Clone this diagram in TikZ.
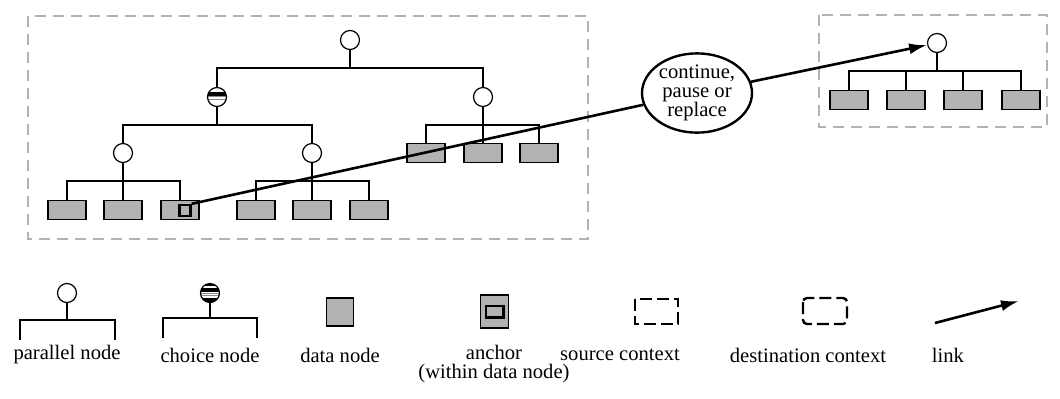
\documentclass[tikz,border=0pt]{standalone}
\usepackage{fontspec}
\setmainfont{Liberation Serif}
\usetikzlibrary{shapes.geometric,arrows.meta}
\begin{document}
\begin{tikzpicture}[x=0.5pt,y=-0.5pt,semithick,
  font=\fontsize{10.3pt}{9.5pt}\selectfont,
  par/.style={circle,draw,fill=white,minimum size=9.5pt,inner sep=0pt},
  choice/.style={circle,draw,fill=white,minimum size=9.5pt,inner sep=0pt,
    path picture={
      \fill[black] ([yshift=0.6pt]path picture bounding box.west) rectangle ([yshift=2.3pt]path picture bounding box.east);
      \fill[black!45] ([yshift=-0.2pt]path picture bounding box.west) rectangle ([yshift=0.3pt]path picture bounding box.east);
      \fill[black!45] ([yshift=-1.3pt]path picture bounding box.west) rectangle ([yshift=-0.9pt]path picture bounding box.east);}},
  choicekey/.style={circle,draw,fill=white,minimum size=9.5pt,inner sep=0pt,
    path picture={
      \fill[black] ([yshift=3.3pt]path picture bounding box.west) rectangle (path picture bounding box.north east);
      \fill[black] ([yshift=0.6pt]path picture bounding box.west) rectangle ([yshift=2.5pt]path picture bounding box.east);
      \fill[black!45] ([yshift=-0.3pt]path picture bounding box.west) rectangle ([yshift=0.2pt]path picture bounding box.east);
      \fill[black!45] ([yshift=-1.5pt]path picture bounding box.west) rectangle ([yshift=-1.0pt]path picture bounding box.east);
      \fill[black] (path picture bounding box.south west) rectangle ([yshift=-2.6pt]path picture bounding box.east);}},
  leaf/.style={draw,fill=black!30,minimum width=19pt,minimum height=9.3pt,inner sep=0pt,line width=0.7pt},
  anc/.style={draw,fill=black!30,minimum width=5.5pt,minimum height=5.5pt,inner sep=0pt,line width=1.2pt},
  ctx/.style={draw=black!30,line width=1.2pt,dash pattern=on 5.5pt off 3.5pt},
  ctxkey/.style={line width=1.2pt,dash pattern=on 6pt off 2.5pt},
  lnk/.style={line width=1.3pt},
  tip/.style={-{Latex[length=9pt,width=5.5pt]}},
  lbl/.style={align=center,inner sep=0pt}]
  \useasboundingbox (0,0) rectangle (1060,398);
  \draw[ctx] (28,16) rectangle (588,239);
  \draw[ctx] (819,15) rectangle (1047,127);
  \node[par] (root) at (350,40){};
  \node[choice] (ch) at (217,97){};
  \node[par] (pr) at (483,97){};
  \node[par] (p1) at (123,153){};
  \node[par] (p2) at (312,153){};
  \node[par] (droot) at (937,43){};
  \coordinate (j1) at (350,68);
  \coordinate (j2) at (217,125);
  \coordinate (j3) at (483,125);
  \coordinate (j4) at (123,181);
  \coordinate (j5) at (312,181);
  \coordinate (j6) at (937,71);
  \foreach \n/\x/\y in {d1/67/210,d2/123/210,d3/180/210,d4/256/210,d5/312/210,d6/369/210,
                        d7/426/153,d8/483/153,d9/539/153,e1/849/100,e2/906/100,e3/963/100,e4/1021/100}
    \node[leaf] (\n) at (\x,\y){};
  \node[anc] (anc) at (185,210.5){};
  \draw (root) -- (j1);
  \draw (ch) |- (j1) -| (pr);
  \draw (ch) -- (j2);
  \draw (p1) |- (j2) -| (p2);
  \draw (pr) -- (d8);
  \draw (d7) |- (j3) -| (d9);
  \draw (p1) -- (d2);
  \draw (d1) |- (j4) -| (d3);
  \draw (p2) -- (d5);
  \draw (d4) |- (j5) -| (d6);
  \draw (droot) -- (j6);
  \draw (e1) |- (j6) -| (e4);
  \draw (e2) -- (e2 |- j6);
  \draw (e3) -- (e3 |- j6);
  \node[ellipse,draw,line width=1.2pt,fill=white,minimum width=55pt,minimum height=37.5pt,inner sep=0pt,align=center] (cpr) at (697,93){continue,\\pause or\\replace};
  \draw[lnk] (anc.north east) -- (cpr);
  \draw[lnk,tip] (cpr) -- (droot);
  \node[par] (kp) at (67,293){};
  \coordinate (kpj) at (67,320);
  \coordinate (kpl) at (20,340);
  \coordinate (kpr) at (115,340);
  \draw (kp) -- (kpj);
  \draw (kpl) |- (kpj) -| (kpr);
  \node[choicekey] (kc) at (210,293){};
  \coordinate (kcj) at (210,318);
  \coordinate (kcl) at (163,338);
  \coordinate (kcr) at (257,338);
  \draw (kc) -- (kcj);
  \draw (kcl) |- (kcj) -| (kcr);
  \node[draw,fill=black!30,minimum width=13.5pt,minimum height=14pt,inner sep=0pt,line width=0.7pt] (kd) at (340,312){};
  \node[draw,fill=black!30,minimum width=14pt,minimum height=16.5pt,inner sep=0pt,line width=0.7pt] (ka) at (494.5,311.5){};
  \node[anc,minimum width=8.8pt,minimum height=5.8pt] (kai) at (494.5,311.5){};
  \draw[ctxkey] (635,299) rectangle (678,324);
  \draw[ctxkey,rounded corners=2pt] (803,298) rectangle (847,324);
  \coordinate (kl1) at (935,323);
  \coordinate (kl2) at (1019,301);
  \draw[lnk,tip] (kl1) -- (kl2);
  \node[lbl] (tp) at (67,355){parallel node};
  \node[lbl] (tc) at (210,355){choice node};
  \node[lbl] (td) at (340,355){data node};
  \node[lbl] (ta) at (494,364.5){anchor\\(within data node)};
  \node[lbl] (ts) at (620,355){source context};
  \node[lbl] (tdc) at (808,355){destination context};
  \node[lbl] (tl) at (948,355){link};
\end{tikzpicture}
\end{document}
